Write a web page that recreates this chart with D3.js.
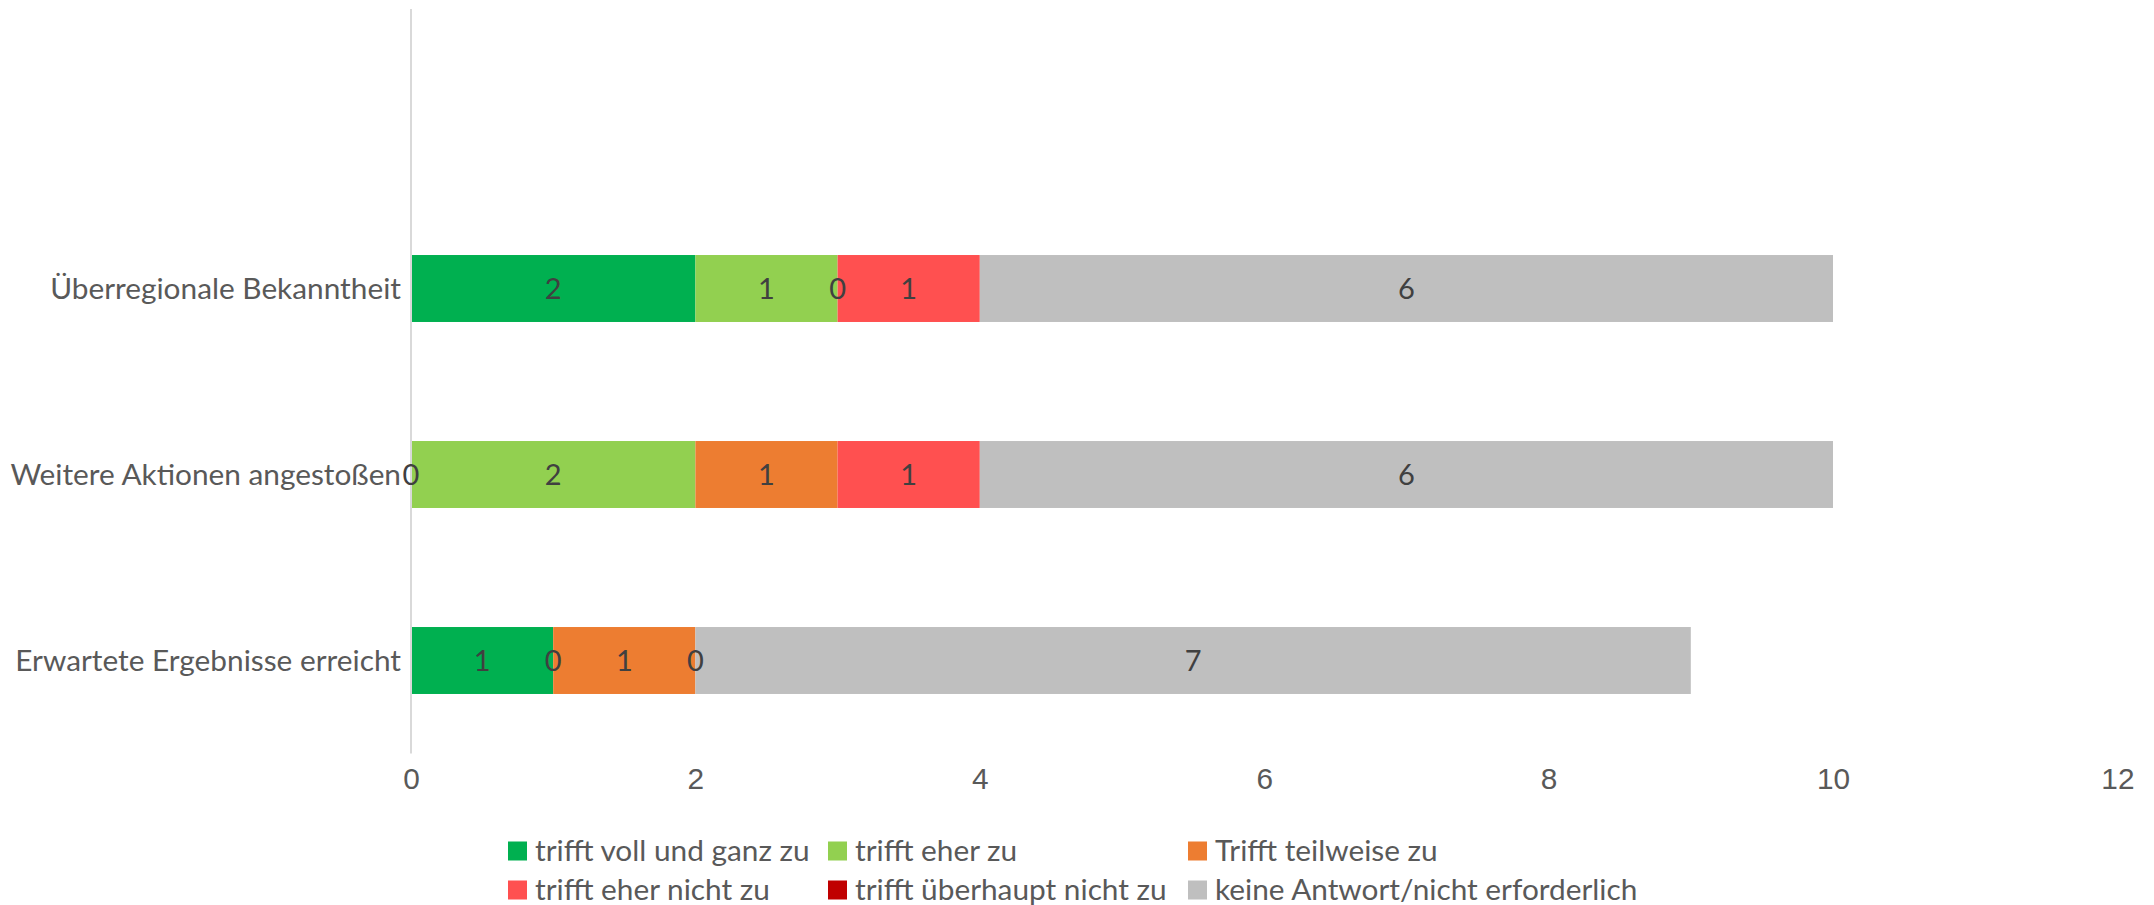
<!DOCTYPE html>
<html>
<head>
<meta charset="utf-8">
<script src="https://cdn.jsdelivr.net/npm/d3@7"></script>
<style>
	body { margin: 0; background: #fff; }
	svg { display: block; font-family: Lato, "Open Sans", sans-serif; }
	.axis-label { fill: #595959; font-size: 29.8px; }
	.value-label { fill: #404040; font-size: 29px; }
	.legend text { fill: #595959; font-size: 29.8px; }
</style>
</head>
<body>
<div class="chart"></div>
<script>

// data
const categories = ["Überregionale Bekanntheit", "Weitere Aktionen angestoßen", "Erwartete Ergebnisse erreicht"];
const seriesNames = ["trifft voll und ganz zu", "trifft eher zu", "Trifft teilweise zu",
	"trifft eher nicht zu", "trifft überhaupt nicht zu", "keine Antwort/nicht erforderlich"];
const seriesColors = ["#00b050", "#92d050", "#ed7d31", "#ff5050", "#c00000", "#bfbfbf"];

const trifftVoll = [2, 0, 1];
const trifftEher = [1, 2, 0];
const trifftTeilweise = [0, 1, 1];
const trifftEherNicht = [1, 1, 0];
const trifftUeberhauptNicht = [null, null, null];
const keineAntwort = [6, 6, 7];

const xTicks = [0, 2, 4, 6, 8, 10, 12];

const seriesValues = [trifftVoll, trifftEher, trifftTeilweise, trifftEherNicht, trifftUeberhauptNicht, keineAntwort];

// build rows for d3.stack
const rows = categories.map((c, i) => {
	const row = { category: c };
	seriesNames.forEach((s, j) => { row[s] = seriesValues[j][i]; });
	return row;
});

const width = 2154;
const height = 905;
const plotLeft = 411;
const plotTop = 9;
const plotBottom = 753.5;

const scaleX = d3.scaleLinear().domain([0, 12]).range([plotLeft, plotLeft + 12 * 142.2]);
// Excel keeps an empty category slot at the top
const scaleY = d3.scaleBand()
	.domain(categories)
	.range([plotBottom - 3 * 186, plotBottom])
	.paddingInner(0.64)
	.paddingOuter(0.32);

const stack = d3.stack()
	.keys(seriesNames)
	.value((d, key) => d[key] == null ? 0 : d[key]);
const stacked = stack(rows);

const svg = d3.select(".chart")
	.append("svg")
		.attr("width", width)
		.attr("height", height);

// bars
const series = svg.append("g")
	.selectAll(".series")
		.data(stacked).enter()
	.append("g")
		.attr("class", "series")
		.attr("fill", (d, i) => seriesColors[i]);

series.selectAll("rect")
	.data((d) => d).enter()
	.append("rect")
		.attr("x", (d) => scaleX(d[0]))
		.attr("y", (d) => scaleY(d.data.category))
		.attr("width", (d) => scaleX(d[1]) - scaleX(d[0]))
		.attr("height", scaleY.bandwidth());

// vertical axis line
svg.append("line")
	.attr("x1", plotLeft)
	.attr("x2", plotLeft)
	.attr("y1", plotTop)
	.attr("y2", plotBottom)
	.attr("stroke", "#d9d9d9")
	.attr("stroke-width", 2);

// category labels
svg.append("g")
	.selectAll("text")
		.data(categories).enter()
	.append("text")
		.attr("class", "axis-label")
		.attr("x", plotLeft - 10)
		.attr("y", (d) => scaleY(d) + scaleY.bandwidth() / 2)
		.attr("dy", "0.35em")
		.attr("text-anchor", "end")
		.text((d) => d);

// value labels, on top of every bar (zero segments too)
const labels = [];
stacked.forEach((s) => {
	s.forEach((d) => {
		if (d.data[s.key] != null) labels.push({ x0: d[0], x1: d[1], category: d.data.category, value: d.data[s.key] });
	});
});

svg.append("g")
	.selectAll("text")
		.data(labels).enter()
	.append("text")
		.attr("class", "value-label")
		.attr("x", (d) => (scaleX(d.x0) + scaleX(d.x1)) / 2)
		.attr("y", (d) => scaleY(d.category) + scaleY.bandwidth() / 2)
		.attr("dy", "0.35em")
		.attr("text-anchor", "middle")
		.text((d) => d.value);

// x axis
const axis = d3.axisBottom(scaleX)
	.tickValues(xTicks)
	.tickSize(0)
	.tickPadding(14);
const xAxis = svg.append("g")
	.attr("transform", `translate(0, ${plotBottom})`)
	.call(axis);
xAxis.select(".domain").remove();
xAxis.selectAll("text")
	.attr("class", "axis-label")
	.attr("fill", null)
	.style("font-family", null);

// legend: 3 columns, 2 rows
const legend = svg.append("g").attr("class", "legend");
const swatch = 19;
const colXs = [508, 828, 1188];
const rowYs = [851, 890];

const items = legend.selectAll(".item")
	.data(seriesNames).enter()
	.append("g")
		.attr("class", "item")
		.attr("transform", (d, i) => `translate(${colXs[i % 3]}, ${rowYs[Math.floor(i / 3)]})`);

items.append("rect")
	.attr("width", swatch)
	.attr("height", swatch)
	.attr("y", -swatch / 2)
	.attr("fill", (d, i) => seriesColors[i]);

items.append("text")
	.attr("x", swatch + 8)
	.attr("dy", "0.35em")
	.text((d) => d);

</script>
</body>
</html>
